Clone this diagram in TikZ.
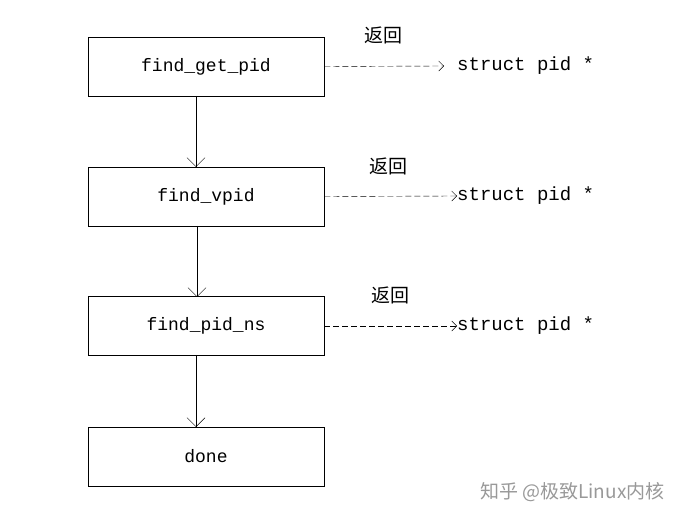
\documentclass[tikz,border=0pt]{standalone}
\usepackage{fontspec}
\setmainfont{Liberation Mono}
\newfontfamily\cjk{Noto Sans CJK SC}
\usetikzlibrary{arrows.meta}
\begin{document}
\begin{tikzpicture}[x=1pt,y=-1pt,
 box/.style={draw,thick,minimum width=236pt,minimum height=59pt,inner sep=0pt,font=\fontsize{18}{20}\selectfont},
 va/.style={-{Straight Barb[length=9pt,width=18pt]}},
 da/.style={dash pattern=on 6pt off 3pt,-{Straight Barb[length=5pt,width=10pt]}},
 ret/.style={anchor=west,font=\fontsize{19}{21}\selectfont,inner sep=0pt},
 lab/.style={font=\cjk\fontsize{19}{21}\selectfont,inner sep=0pt}]
\useasboundingbox (0,0) rectangle (697,521);
\node[box] (a) at (206,66.5) {find\_get\_pid};
\node[box] (b) at (206,196.5) {find\_vpid};
\node[box] (c) at (206,326) {find\_pid\_ns};
\node[box] (d) at (206,456.5) {done};
\draw[va] (196,96) -- (196,167);
\draw[va] (197,226) -- (197,297);
\draw[va] (196,355) -- (196,427);
\node[ret] (ra) at (457,66) {struct pid *};
\node[ret] (rb) at (457,196) {struct pid *};
\node[ret] (rc) at (457,326) {struct pid *};
\draw[da] (a.east) -- (444,66);
\draw[da] (b.east) -- (rb.west);
\draw[da] (c.east) -- (rc.west);
\node[lab] (la) at (383,35) {返回};
\node[lab] (lb) at (388,166) {返回};
\node[lab] (lc) at (390,295) {返回};
\node[font=\cjk\fontsize{19}{21}\selectfont,text=gray!80,anchor=west,inner sep=0pt] (w) at (480,492) {知乎 @极致Linux内核};
\end{tikzpicture}
\end{document}
